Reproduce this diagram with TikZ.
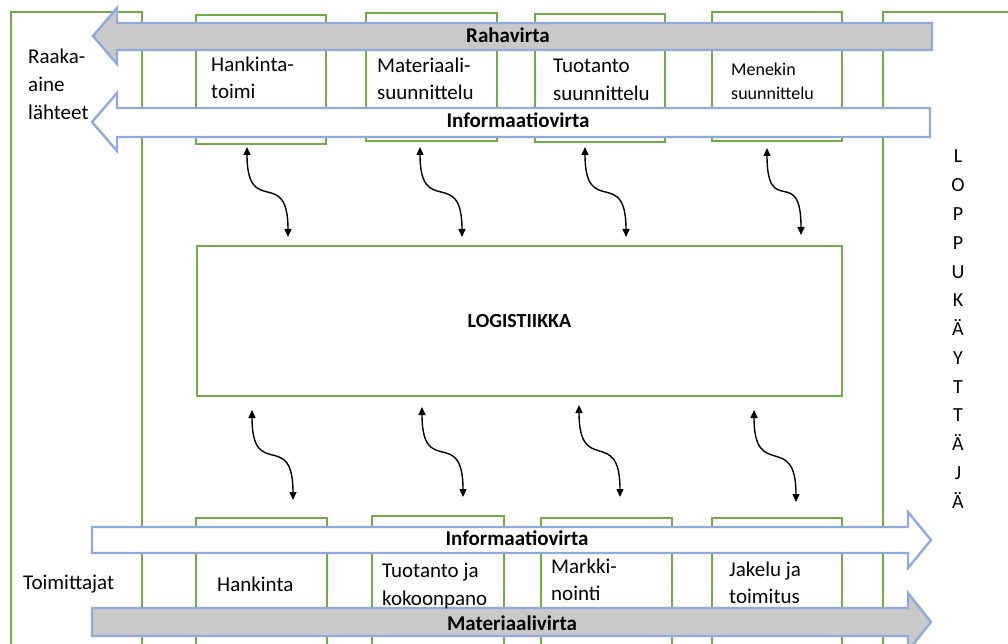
\documentclass[tikz,border=0pt]{standalone}
\usepackage{fontspec}
\setmainfont{Carlito}
\usetikzlibrary{arrows.meta}
\definecolor{gbox}{HTML}{70AD47}
\definecolor{bflow}{HTML}{8FAADC}
\definecolor{gfill}{HTML}{C9C9C9}
\tikzset{
  box/.style={draw=gbox, line width=1.6pt, inner sep=0pt, fill=none},
  flow/.style={draw=bflow, line width=2.4pt, line join=miter},
  lbl/.style={inner sep=0pt, anchor=base west, font=\fontsize{21}{25}\selectfont},
  smlbl/.style={inner sep=0pt, anchor=base west, font=\fontsize{18}{22}\selectfont},
  flowlbl/.style={inner sep=0pt, anchor=base, font=\fontsize{21}{25}\selectfont\bfseries},
  vlbl/.style={inner sep=0pt, anchor=base, font=\fontsize{20}{24}\selectfont},
  link/.style={line width=1.4pt, {Triangle[length=8pt,width=7pt]}-{Triangle[length=8pt,width=7pt]}}
}
\begin{document}
\begin{tikzpicture}[x=1pt,y=-1pt]
\useasboundingbox (0,0) rectangle (1008,644);
\clip (0,0) rectangle (1008,644);
\fill[white] (0,0) rectangle (1008,644);
% outer boxes
\node[box, minimum width=131pt, minimum height=648pt] (src) at (76.5,336) {};
\node[box, minimum width=147pt, minimum height=648pt] (cust) at (956.5,336) {};
% top boxes
\node[box, minimum width=130pt, minimum height=129pt] (hk) at (261,79.5) {};
\node[box, minimum width=131pt, minimum height=128pt] (ms) at (431.5,77) {};
\node[box, minimum width=130pt, minimum height=128pt] (ts) at (600,78) {};
\node[box, minimum width=130pt, minimum height=129pt] (mn) at (777,76.5) {};
% bottom boxes
\node[box, minimum width=131pt, minimum height=142pt] (hb) at (261.5,589) {};
\node[box, minimum width=132pt, minimum height=144pt] (tk) at (438,588) {};
\node[box, minimum width=131pt, minimum height=142pt] (mk) at (606.5,589) {};
\node[box, minimum width=130pt, minimum height=142pt] (jt) at (777,589) {};
% logistics
\node[box, minimum width=645pt, minimum height=150pt, font=\fontsize{20}{24}\selectfont\bfseries] (log) at (519.5,321) {LOGISTIIKKA};
% flows
\draw[flow, fill=gfill] (93,36) -- (117,8) -- (117,23) -- (932,23) -- (932,50) -- (117,50) -- (117,64) -- cycle;
\draw[flow, fill=white] (92,122) -- (117,93) -- (117,108) -- (930,108) -- (930,137) -- (117,137) -- (117,151) -- cycle;
\draw[flow, fill=white] (931,540) -- (908,512) -- (908,527) -- (92,527) -- (92,553) -- (908,553) -- (908,568) -- cycle;
\draw[flow, fill=gfill] (931,622) -- (908,593) -- (908,608) -- (92,608) -- (92,636) -- (908,636) -- (908,651) -- cycle;
\node[flowlbl] (fr) at (508,43) {Rahavirta};
\node[flowlbl] (fi1) at (518,128) {Informaatiovirta};
\node[flowlbl] (fi2) at (517,545) {Informaatiovirta};
\node[flowlbl] (fm) at (512,630) {Materiaalivirta};
% texts
\node[lbl] (t1) at (28,64) {Raaka-};
\node[lbl] (t2) at (28,92) {aine};
\node[lbl] (t3) at (28,120) {lähteet};
\node[lbl] (t4) at (23,589) {Toimittajat};
\node[lbl] (a1) at (211,72) {Hankinta-};
\node[lbl] (a2) at (211,99) {toimi};
\node[lbl] (b1) at (377,73) {Materiaali-};
\node[lbl] (b2) at (377,100) {suunnittelu};
\node[lbl] (c1) at (553,73) {Tuotanto};
\node[lbl] (c2) at (553,101) {suunnittelu};
\node[smlbl] (d1) at (731,76) {Menekin};
\node[smlbl] (d2) at (731,100) {suunnittelu};
\node[lbl] (e1) at (217,591) {Hankinta};
\node[lbl] (f1) at (382,577) {Tuotanto ja};
\node[lbl] (f2) at (382,605) {kokoonpano};
\node[lbl] (g1) at (551,573) {Markki-};
\node[lbl] (g2) at (551,600) {nointi};
\node[lbl] (h1) at (729,576) {Jakelu ja};
\node[lbl] (h2) at (729,603) {toimitus};
% vertical text
\foreach \c [count=\i] in {L,O,P,P,U,K,Ä,Y,T,T,Ä,J,Ä}
  \node[vlbl] (v\i) at (958,{163+(\i-1)*28.75}) {\c};
% link end points
\coordinate (p1a) at (247,147); \coordinate (p1b) at (288,237);
\coordinate (p2a) at (420,147); \coordinate (p2b) at (462,237);
\coordinate (p3a) at (585,147); \coordinate (p3b) at (626,237);
\coordinate (p4a) at (767,148); \coordinate (p4b) at (801,235);
\coordinate (q1a) at (252,410); \coordinate (q1b) at (293,500);
\coordinate (q2a) at (422,407); \coordinate (q2b) at (463,497);
\coordinate (q3a) at (579,405); \coordinate (q3b) at (620,497);
\coordinate (q4a) at (754,410); \coordinate (q4b) at (796,502);
\foreach \n in {p1,p2,p3,p4,q1,q2,q3,q4}
  \draw[link] (\n a) .. controls +(0,72) and +(0,-72) .. (\n b);
\end{tikzpicture}
\end{document}
